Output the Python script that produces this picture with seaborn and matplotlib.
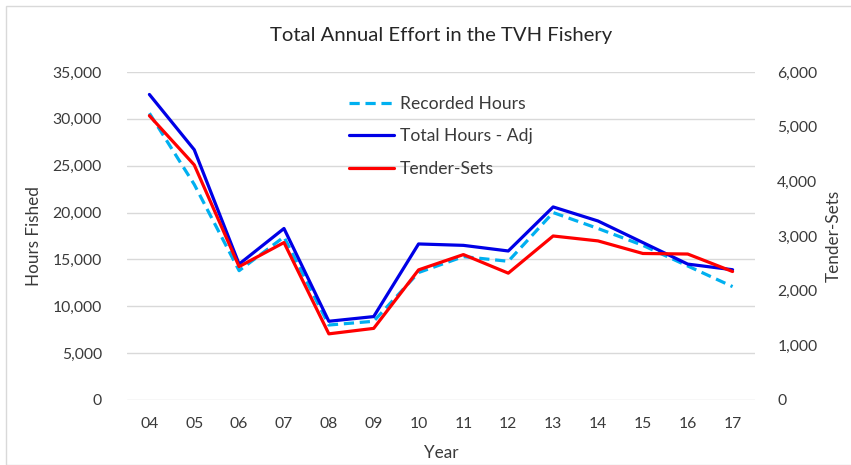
import pandas as pd
import matplotlib
matplotlib.use('Agg')
import matplotlib.pyplot as plt
import seaborn as sns
from matplotlib.patches import Rectangle
from matplotlib.ticker import FuncFormatter, MultipleLocator

years = ['04', '05', '06', '07', '08', '09', '10', '11', '12', '13', '14', '15', '16', '17']
recorded_hours = [30600, 23000, 13800, 17400, 8000, 8400, 13600, 15300, 14800, 20000, 18300, 16500, 14300, 12100]
total_hours_adj = [32600, 26700, 14500, 18300, 8400, 8900, 16650, 16500, 15900, 20600, 19100, 16800, 14500, 13900]
tender_sets = [5200, 4300, 2440, 2880, 1210, 1310, 2380, 2660, 2320, 3000, 2910, 2680, 2670, 2350]

df = pd.DataFrame({'Year': years, 'Recorded Hours': recorded_hours,
                   'Total Hours - Adj': total_hours_adj, 'Tender-Sets': tender_sets})

sns.set_style('white')
plt.rcParams['font.family'] = ['Lato', 'DejaVu Sans']
txt = '#3a3a3a'

fig = plt.figure(figsize=(8.51, 4.65), dpi=100)
ax = fig.add_axes([0.1492, 0.1398, 0.738, 0.7054])
ax2 = ax.twinx()

sns.lineplot(data=df, x='Year', y='Recorded Hours', ax=ax, color='#00B0F0', lw=2.3,
             linestyle=(0, (3.2, 1.8)), label='Recorded Hours', legend=False)
sns.lineplot(data=df, x='Year', y='Total Hours - Adj', ax=ax, color='#0000E6', lw=2.3,
             label='Total Hours - Adj', legend=False)
sns.lineplot(data=df, x='Year', y='Tender-Sets', ax=ax2, color='#FF0000', lw=2.3,
             label='Tender-Sets', legend=False)

ax.set_xlim(-0.5, len(years) - 0.5)
ax.set_ylim(0, 35000)
ax2.set_ylim(0, 6000)
ax.yaxis.set_major_locator(MultipleLocator(5000))
ax2.yaxis.set_major_locator(MultipleLocator(1000))
fmt = FuncFormatter(lambda v, p: f'{int(v):,}')
ax.yaxis.set_major_formatter(fmt)
ax2.yaxis.set_major_formatter(fmt)

ax.grid(axis='y', color='#d9d9d9', lw=1)
ax.set_axisbelow(True)
for a in (ax, ax2):
    for s in a.spines.values():
        s.set_visible(False)
    a.tick_params(length=0, labelsize=11.3, colors=txt)
ax.tick_params(axis='y', pad=18)
ax2.tick_params(axis='y', pad=16)
ax.tick_params(axis='x', pad=12)

ax.set_xlabel('Year', fontsize=12.3, color=txt, labelpad=10)
ax.set_ylabel('Hours Fished', fontsize=12.3, color=txt, labelpad=8)
ax2.set_ylabel('Tender-Sets', fontsize=12.3, color=txt, labelpad=6)
ax.set_title('Total Annual Effort in the TVH Fishery', fontsize=14.6, color='#262626', pad=22)

h1, l1 = ax.get_legend_handles_labels()
h2, l2 = ax2.get_legend_handles_labels()
ax2.legend(h1 + h2, l1 + l2, loc='upper left', bbox_to_anchor=(333 / 851, 1 - 80 / 465),
           bbox_transform=fig.transFigure, frameon=False, fontsize=12.6, handlelength=2.6,
           handletextpad=0.3, labelspacing=0.95, labelcolor=txt)

fig.patches.append(Rectangle((6 / 851, 0), 1, 1 - 6 / 465, transform=fig.transFigure,
                             fill=False, edgecolor='#d9d9d9', lw=1))

fig.savefig('out.png', dpi=100)
